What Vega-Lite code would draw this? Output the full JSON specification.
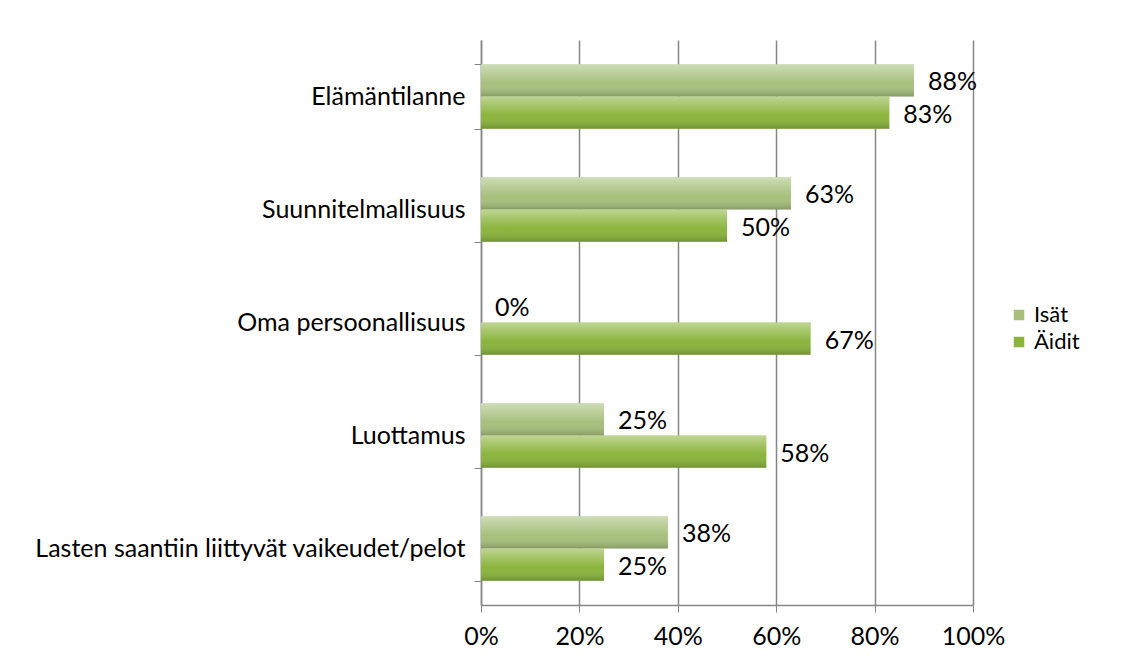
{
  "$schema": "https://vega.github.io/schema/vega-lite/v6.json",
  "autosize": "none",
  "width": 492,
  "height": 565,
  "padding": {"left": 481, "top": 40, "right": 159, "bottom": 61},
  "background": "white",
  "config": {
    "font": "Lato",
    "view": {"stroke": null},
    "axis": {"labelFont": "Lato", "labelFontSize": 25, "labelColor": "#000000", "domainColor": "#868686", "tickColor": "#868686", "gridColor": "#868686", "labelLimit": 600},
    "legend": {"labelFont": "Lato", "labelFontSize": 22, "labelColor": "#000000"}
  },
  "data": {
    "values": [
      {"kategoria": "Elämäntilanne", "ryhmä": "Isät", "arvo": 0.88},
      {"kategoria": "Elämäntilanne", "ryhmä": "Äidit", "arvo": 0.83},
      {"kategoria": "Suunnitelmallisuus", "ryhmä": "Isät", "arvo": 0.63},
      {"kategoria": "Suunnitelmallisuus", "ryhmä": "Äidit", "arvo": 0.50},
      {"kategoria": "Oma persoonallisuus", "ryhmä": "Isät", "arvo": 0.0},
      {"kategoria": "Oma persoonallisuus", "ryhmä": "Äidit", "arvo": 0.67},
      {"kategoria": "Luottamus", "ryhmä": "Isät", "arvo": 0.25},
      {"kategoria": "Luottamus", "ryhmä": "Äidit", "arvo": 0.58},
      {"kategoria": "Lasten saantiin liittyvät vaikeudet/pelot", "ryhmä": "Isät", "arvo": 0.38},
      {"kategoria": "Lasten saantiin liittyvät vaikeudet/pelot", "ryhmä": "Äidit", "arvo": 0.25}
    ]
  },
  "encoding": {
    "y": {
      "field": "kategoria",
      "type": "nominal",
      "sort": null,
      "title": null,
      "scale": {"paddingInner": 0.43, "paddingOuter": 0.215},
      "axis": {"tickBand": "extent", "tickSize": 7, "labelPadding": 9, "grid": false, "domainWidth": 1.5}
    },
    "yOffset": {"field": "ryhmä", "type": "nominal", "sort": ["Isät", "Äidit"]},
    "x": {
      "field": "arvo",
      "type": "quantitative",
      "title": null,
      "scale": {"domain": [0, 1], "nice": false},
      "axis": {"values": [0, 0.2, 0.4, 0.6, 0.8, 1], "format": ".0%", "grid": true, "gridWidth": 1.5, "tickSize": 7, "labelPadding": 12, "labelFlush": false, "domainWidth": 1.5}
    }
  },
  "layer": [
    {
      "mark": {"type": "bar"},
      "encoding": {
        "color": {
          "field": "ryhmä",
          "type": "nominal",
          "scale": {"domain": ["Isät", "Äidit"], "range": ["#a6c07c", "#8ab43c"]},
          "legend": {"title": null, "orient": "none", "legendX": 527, "legendY": 264, "symbolType": "square", "symbolSize": 110, "symbolStrokeWidth": 0, "labelOffset": 4, "rowPadding": 5}
        }
      }
    },
    {
      "mark": {
        "type": "bar",
        "fill": {"gradient": "linear", "x1": 0, "y1": 0, "x2": 0, "y2": 1, "stops": [
          {"offset": 0, "color": "rgba(255,255,255,0.45)"},
          {"offset": 0.25, "color": "rgba(255,255,255,0.25)"},
          {"offset": 0.6, "color": "rgba(255,255,255,0)"},
          {"offset": 1, "color": "rgba(0,0,0,0.2)"}
        ]}
      }
    },
    {
      "mark": {"type": "text", "align": "left", "baseline": "middle", "dx": 14, "dy": 2, "fontSize": 25, "font": "Lato", "color": "#000000"},
      "encoding": {"text": {"field": "arvo", "type": "quantitative", "format": ".0%"}}
    }
  ]
}
